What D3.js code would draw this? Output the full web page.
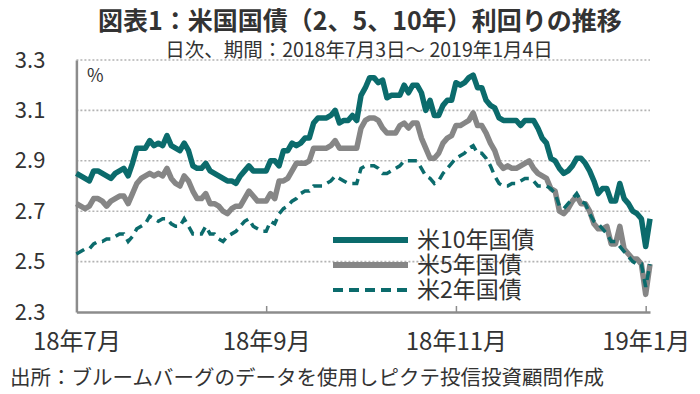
<!DOCTYPE html>
<meta charset="utf-8">
<script src="https://d3js.org/d3.v7.min.js"></script>
<style>
body { margin: 0; background: #fff; }
text { font-family: "Noto Sans CJK JP", sans-serif; fill: #333; }
.grid line { stroke: #b3b3b3; stroke-width: 1.6px; stroke-dasharray: 2,2; }
.axis path, .axis line { stroke: #8c8c8c; stroke-width: 2.5px; }
</style>
<body>
<script>

// daily yields (%), one value per weekday from 2018-07-03 to 2019-01-04
var y10 = [
  2.85, 2.84, 2.83, 2.82, 2.86, 2.86, 2.85, 2.84, 2.83, 2.85, 2.86, 2.87, 2.84, 2.89, 2.95, 2.95, 2.95, 2.98, 2.96, 2.97, 2.96,
  3.00, 2.96, 2.95, 2.94, 2.97, 2.94, 2.88, 2.87, 2.87, 2.89, 2.86, 2.85, 2.84, 2.83, 2.82, 2.82, 2.81, 2.84, 2.86, 2.88, 2.86, 2.86, 2.86,
  2.86, 2.90, 2.90, 2.88, 2.94, 2.94, 2.97, 2.96, 2.97, 2.99, 2.99, 3.05, 3.07, 3.07, 3.07, 3.08, 3.10, 3.05, 3.06, 3.06,
  3.08, 3.06, 3.16, 3.19, 3.23, 3.23, 3.21, 3.22, 3.15, 3.16, 3.16, 3.16, 3.20, 3.17, 3.20, 3.20, 3.17, 3.10, 3.14, 3.08, 3.08, 3.12, 3.14,
  3.14, 3.21, 3.20, 3.21, 3.23, 3.24, 3.19, 3.19, 3.14, 3.12, 3.11, 3.07, 3.06, 3.06, 3.06, 3.06, 3.04, 3.06, 3.06, 3.06, 3.03, 2.99,
  2.97, 2.91, 2.90, 2.87, 2.85, 2.86, 2.88, 2.91, 2.91, 2.89, 2.86, 2.82, 2.77, 2.79, 2.79, 2.74, 2.74, 2.81, 2.75, 2.73, 2.70,
  2.69, 2.67, 2.56, 2.67
];
var y5 = [
  2.73, 2.72, 2.71, 2.72, 2.75, 2.75, 2.74, 2.72, 2.74, 2.75, 2.76, 2.76, 2.73, 2.77, 2.81, 2.83, 2.84, 2.85, 2.84, 2.85, 2.84,
  2.87, 2.83, 2.81, 2.80, 2.84, 2.82, 2.78, 2.75, 2.75, 2.77, 2.73, 2.73, 2.72, 2.70, 2.69, 2.71, 2.72, 2.72, 2.75, 2.78, 2.76, 2.74, 2.74,
  2.74, 2.77, 2.75, 2.82, 2.82, 2.83, 2.86, 2.89, 2.89, 2.89, 2.90, 2.95, 2.95, 2.95, 2.95, 2.96, 2.98, 2.95, 2.95, 2.95,
  2.95, 2.95, 3.03, 3.06, 3.07, 3.07, 3.06, 3.03, 3.01, 3.01, 3.01, 3.04, 3.05, 3.03, 3.05, 3.05, 2.99, 2.95, 2.91, 2.91, 2.93, 2.97, 2.99,
  3.00, 3.04, 3.04, 3.05, 3.06, 3.09, 3.04, 3.04, 3.01, 2.97, 2.94, 2.89, 2.87, 2.88, 2.87, 2.87, 2.88, 2.89, 2.90, 2.87, 2.85, 2.84,
  2.83, 2.79, 2.78, 2.70, 2.69, 2.71, 2.74, 2.76, 2.73, 2.73, 2.70, 2.65, 2.63, 2.63, 2.64, 2.57, 2.57, 2.64, 2.55, 2.53, 2.51,
  2.51, 2.49, 2.37, 2.49
];
var y2 = [
  2.53, 2.54, 2.55, 2.55, 2.57, 2.58, 2.58, 2.59, 2.59, 2.60, 2.61, 2.61, 2.58, 2.60, 2.63, 2.64, 2.65, 2.68, 2.67, 2.66, 2.67,
  2.67, 2.65, 2.64, 2.64, 2.67, 2.64, 2.61, 2.61, 2.61, 2.64, 2.61, 2.61, 2.59, 2.58, 2.60, 2.61, 2.62, 2.64, 2.66, 2.67, 2.64, 2.63, 2.62,
  2.62, 2.66, 2.65, 2.69, 2.71, 2.72, 2.74, 2.75, 2.77, 2.78, 2.78, 2.80, 2.80, 2.80, 2.81, 2.82, 2.84, 2.83, 2.82, 2.81,
  2.81, 2.81, 2.87, 2.88, 2.88, 2.88, 2.87, 2.85, 2.85, 2.86, 2.87, 2.88, 2.90, 2.90, 2.90, 2.90, 2.87, 2.84, 2.83, 2.81, 2.82, 2.85, 2.87,
  2.89, 2.91, 2.92, 2.93, 2.95, 2.96, 2.93, 2.93, 2.91, 2.88, 2.84, 2.81, 2.80, 2.80, 2.81, 2.81, 2.82, 2.83, 2.83, 2.82, 2.80, 2.80,
  2.80, 2.79, 2.77, 2.72, 2.71, 2.73, 2.75, 2.77, 2.74, 2.73, 2.69, 2.66, 2.65, 2.63, 2.61, 2.58, 2.58, 2.56, 2.54, 2.52, 2.50,
  2.49, 2.49, 2.40, 2.49
];

var yTicks = [2.3, 2.5, 2.7, 2.9, 3.1, 3.3];
var labelEvery = 44;   // one x label every 44 days
var names = ["米10年国債", "米5年国債", "米2年国債"];

var width = 700, height = 394;
var plotLeft = 76.4, plotRight = 650, plotTop = 60, plotBottom = 312;

// weekdays between the first and last date
var dates = d3.timeDay.range(new Date(2018, 6, 3), new Date(2019, 0, 5))
    .filter(function(d) { return d.getDay() != 0 && d.getDay() != 6; });

var svg = d3.select("body").append("svg")
    .attr("width", width)
    .attr("height", height);

var x = d3.scalePoint()
    .domain(d3.range(dates.length))
    .range([plotLeft, plotRight]);

var y = d3.scaleLinear()
    .domain([2.3, 3.3])
    .range([plotBottom, plotTop]);

// title
svg.append("text")
    .attr("x", 360).attr("y", 30)
    .attr("text-anchor", "middle")
    .style("font-size", "25px").style("font-weight", "bold")
    .text("図表1：米国国債（2、5、10年）利回りの推移");

svg.append("text")
    .attr("x", 359).attr("y", 57)
    .attr("text-anchor", "middle")
    .style("font-size", "19.5px")
    .text("日次、期間：2018年7月3日～ 2019年1月4日");

// dotted gridlines
svg.append("g").attr("class", "grid")
    .selectAll("line")
    .data(yTicks.slice(1))
    .enter().append("line")
    .attr("x1", plotLeft).attr("x2", plotRight)
    .attr("y1", function(d) { return y(d); })
    .attr("y2", function(d) { return y(d); });

// y axis
var yAxis = svg.append("g")
    .attr("class", "axis")
    .attr("transform", "translate(" + plotLeft + ",0)")
    .call(d3.axisLeft(y).tickValues(yTicks).tickFormat(d3.format(".1f"))
        .tickSize(0).tickPadding(31));
yAxis.selectAll("text").style("font-size", "22px").style("fill", "#333");

svg.append("text")
    .attr("x", 87).attr("y", 82)
    .style("font-size", "18px")
    .text("%");

// x axis, ticks pointing inside
var fmt = d3.timeFormat("%y年%-m月");
var xAxis = svg.append("g")
    .attr("class", "axis")
    .attr("transform", "translate(0," + plotBottom + ")")
    .call(d3.axisBottom(x)
        .tickValues(x.domain().filter(function(i) { return i % labelEvery == 0; }))
        .tickFormat(function(i) { return fmt(dates[i]); })
        .tickSizeInner(-6).tickSizeOuter(0).tickPadding(21));
xAxis.selectAll("text").style("font-size", "24px").style("fill", "#333");
xAxis.selectAll(".tick line").style("stroke-width", "1.5px");

var line = d3.line()
    .x(function(d, i) { return x(i); })
    .y(function(d) { return y(d); });

svg.append("path").datum(y5)
    .attr("d", line)
    .attr("fill", "none")
    .attr("stroke", "#868686")
    .attr("stroke-width", 5.5)
    .attr("stroke-linejoin", "round");

svg.append("path").datum(y2)
    .attr("d", line)
    .attr("fill", "none")
    .attr("stroke", "#0b6b6c")
    .attr("stroke-width", 3.5)
    .attr("stroke-dasharray", "9,6");

svg.append("path").datum(y10)
    .attr("d", line)
    .attr("fill", "none")
    .attr("stroke", "#0b6b6c")
    .attr("stroke-width", 5.5)
    .attr("stroke-linejoin", "round");

// legend
var legendStyle = [
  {color: "#0b6b6c", w: 6, dash: null},
  {color: "#868686", w: 6, dash: null},
  {color: "#0b6b6c", w: 4, dash: "10,6"}
];
var legend = svg.append("g").selectAll("g")
    .data(names)
    .enter().append("g")
    .attr("transform", function(d, i) { return "translate(333," + (240 + i * 25) + ")"; });

legend.append("line")
    .attr("x1", 0).attr("x2", 75)
    .attr("stroke", function(d, i) { return legendStyle[i].color; })
    .attr("stroke-width", function(d, i) { return legendStyle[i].w; })
    .attr("stroke-dasharray", function(d, i) { return legendStyle[i].dash; });

legend.append("text")
    .attr("x", 84).attr("dy", "0.36em")
    .style("font-size", "23px")
    .text(function(d) { return d; });

// source
svg.append("text")
    .attr("x", 10).attr("y", 385)
    .style("font-size", "20.5px")
    .text("出所：ブルームバーグのデータを使用しピクテ投信投資顧問作成");

</script>
</body>
